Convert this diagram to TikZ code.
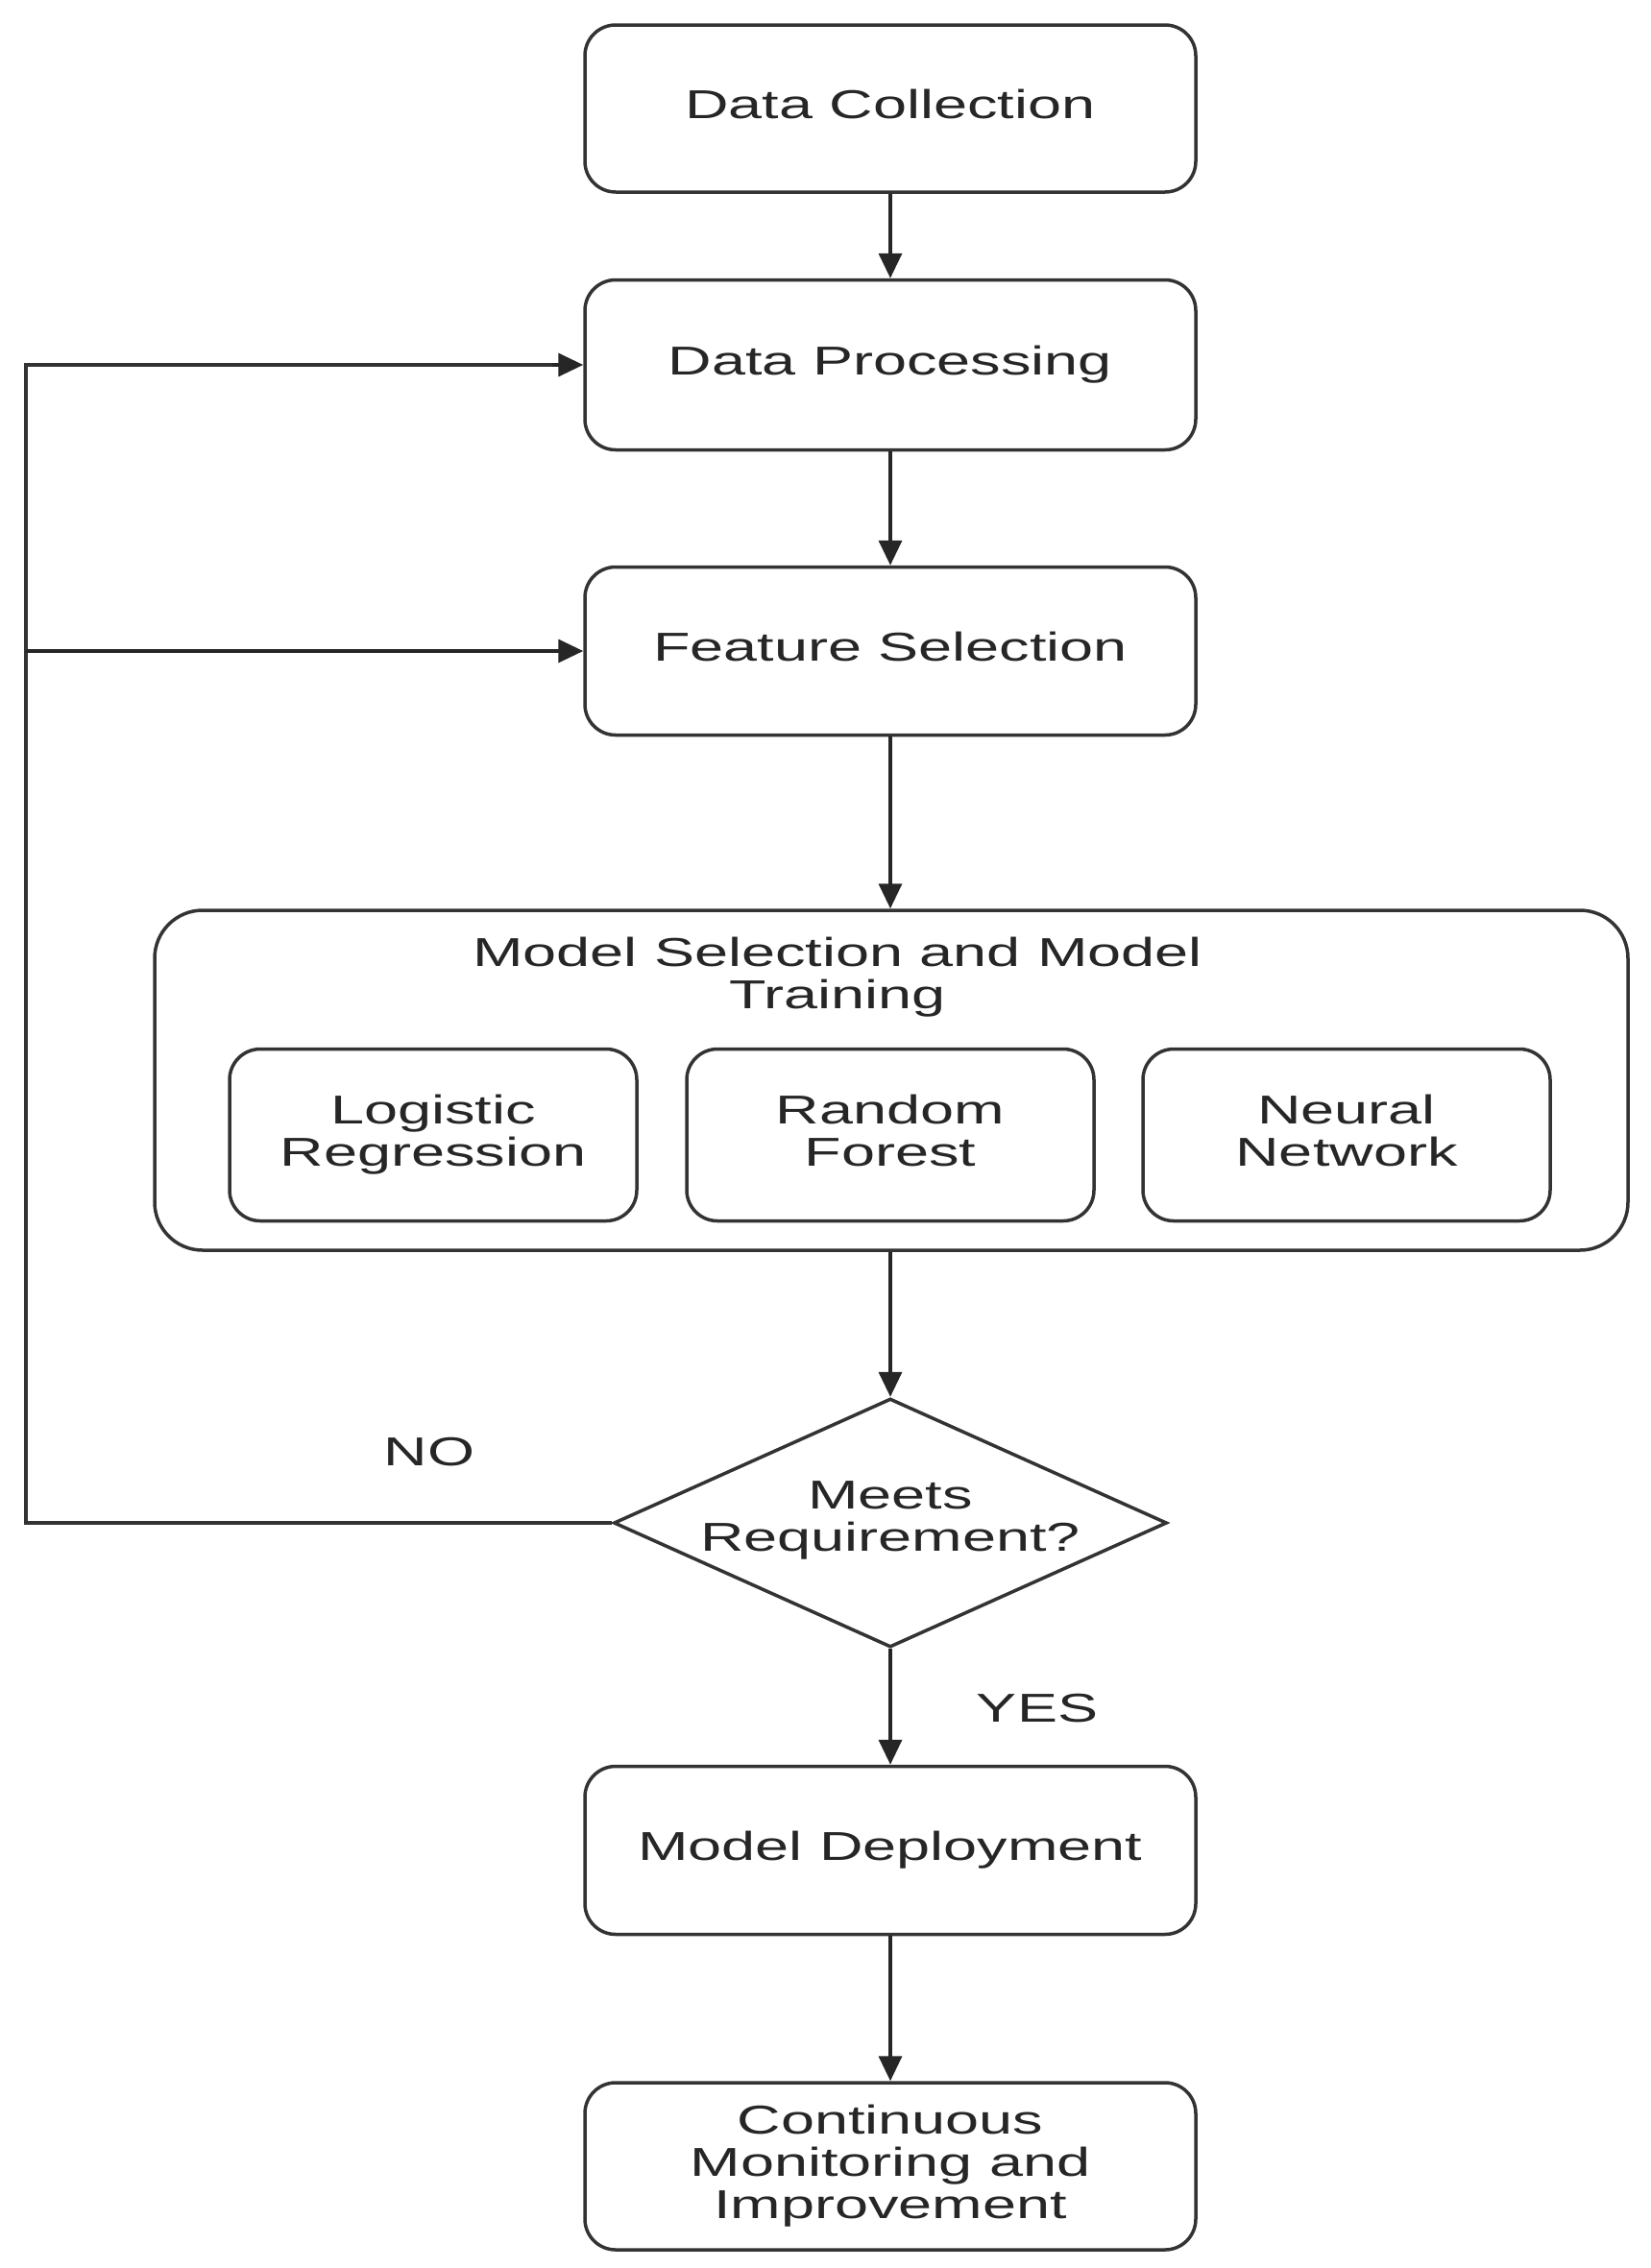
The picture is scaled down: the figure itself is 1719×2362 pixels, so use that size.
\documentclass[tikz,border=0pt]{standalone}
\usepackage{fontspec}
\usepackage{graphicx}
\setmainfont{Liberation Sans}
\usetikzlibrary{arrows.meta,shapes.geometric}
\newcommand{\sx}[1]{\scalebox{1.5}[1]{\vphantom{Ag}#1}}
\begin{document}
\begin{tikzpicture}[x=1pt,y=-1pt,
  line width=3.5pt,
  every node/.style={font=\fontsize{42}{44}\selectfont, text=black!85},
  procbox/.style={draw=black!80, rectangle, rounded corners=32pt, minimum width=636pt, inner sep=0pt, align=center},
  subbox/.style={draw=black!80, rectangle, rounded corners=32pt, minimum width=424pt, minimum height=179pt, inner sep=0pt, align=center},
  bigbox/.style={draw=black!80, rectangle, rounded corners=50pt, minimum width=1534pt, minimum height=354pt, inner sep=0pt},
  decbox/.style={draw=black!80, diamond, minimum width=576pt, minimum height=259pt, inner sep=0pt},
  lbl/.style={align=center, inner sep=0pt},
  conn/.style={draw=black!85, -{Triangle[length=26pt,width=24pt]}},
  plain/.style={draw=black!80}
]
\useasboundingbox (0,0) rectangle (1719,2362);
\fill[white] (0,0) rectangle (1719,2362);

\node[procbox, minimum height=174pt] (dc) at (927,113) {\sx{Data Collection}};
\node[procbox, minimum height=177pt] (dp) at (927,380) {\sx{Data Processing}};
\node[procbox, minimum height=175pt] (fs) at (927,678) {\sx{Feature Selection}};

\node[bigbox] (big) at (928,1125) {};
\node[lbl] (bigtitle) at (872,1018) {\sx{Model Selection and Model}\\\sx{Training}};
\node[subbox] (lr) at (451,1182) {\sx{Logistic}\\\sx{Regression}};
\node[subbox] (rf) at (927,1182) {\sx{Random}\\\sx{Forest}};
\node[subbox] (nn) at (1402,1182) {\sx{Neural}\\\sx{Network}};

\node[decbox] (dec) at (927,1586) {};
\node[lbl] (dectext) at (927,1583) {\sx{Meets}\\\sx{Requirement?}};

\node[procbox, minimum height=175pt] (md) at (927,1927) {\sx{Model Deployment}};
\node[procbox, minimum height=174pt] (cm) at (927,2256) {\sx{Continuous}\\\sx{Monitoring and}\\\sx{Improvement}};

\node[lbl] (no) at (447,1516) {\sx{NO}};
\node[lbl] (yes) at (1080,1783) {\sx{YES}};

\draw[conn] (dc.south) -- (dp.north);
\draw[conn] (dp.south) -- (fs.north);
\draw[conn] (fs.south) -- (fs.south |- big.north);
\draw[conn] (fs.south |- big.south) -- (dec.north);
\draw[conn] (dec.south) -- (md.north);
\draw[conn] (md.south) -- (cm.north);

\coordinate (lb) at (27,1586);
\coordinate (lt) at (27,380);
\coordinate (lm) at (27,678);
\draw[plain, line join=miter] (dec.west) -- (lb) -- (lt) -- ([xshift=-30pt]dp.west);
\draw[conn] ([xshift=-32pt]dp.west) -- (dp.west);
\draw[conn] (lm) -- (fs.west);
\end{tikzpicture}
\end{document}
